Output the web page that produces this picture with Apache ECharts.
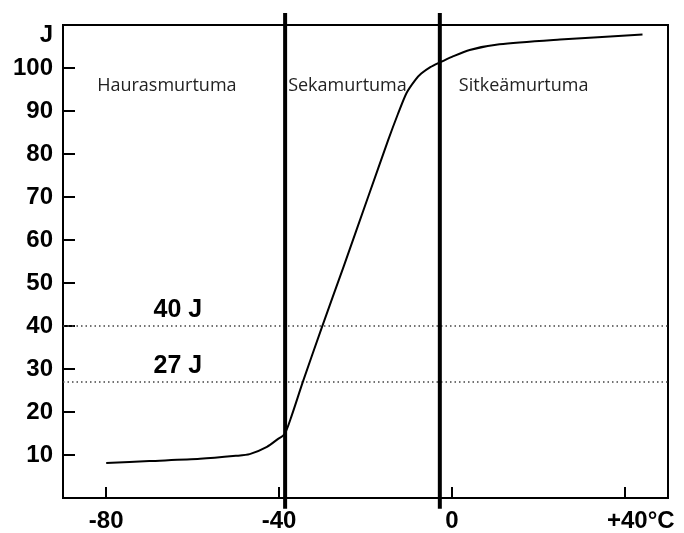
<!DOCTYPE html>
<html>
<head>
<meta charset="utf-8">
<script src="https://cdn.jsdelivr.net/npm/echarts@6/dist/echarts.min.js"></script>
<style>html,body{margin:0;padding:0;background:#fff;}#c{width:684px;height:533px;}</style>
</head>
<body>
<div id="c"></div>
<script>
// Transition curve (temperature °C, impact energy J)
const temps = [-80, -70, -58.3, -50, -46.8, -42.8, -40.3, -38.7, -37.1, -34.5, -30.2, -25, -19.4, -14.8, -12.5, -10.5, -8.5, -7.1, -5, -2.8, 0, 4.1, 11, 25, 44.1];
const energy = [8.15, 8.6, 9.1, 9.8, 10.2, 11.9, 13.7, 14.9, 19.1, 27, 39.4, 54, 70, 83.1, 89.3, 94.2, 97.2, 98.7, 100.2, 101.3, 102.6, 104.2, 105.5, 106.6, 107.8];
// Region boundaries (°C)
const boundaries = [-38.6, -2.8];
const boundaryRange = [-2.5, 112.8];
// Reference energy levels
const refLevels = [40, 27];
const refLabels = ['40 J', '27 J'];
const refLabelPos = [[-63.4, 43.6], [-63.4, 30.6]];
// Region names
const regionNames = ['Haurasmurtuma', 'Sekamurtuma', 'Sitkeämurtuma'];
const regionPos = [[-82.1, 95.9], [-37.9, 95.9], [1.6, 95.9]];
// Axis ticks
const xTicks = [-80, -40, 0, 40];
const xTickLabels = ['-80', '-40', '0', '+40°C'];
const yTicks = [10, 20, 30, 40, 50, 60, 70, 80, 90, 100];
const yUnitPos = 107.6;

const chart = echarts.init(document.getElementById('c'));
const series = [];
series.push({
  type: 'line', data: temps.map((t, i) => [t, energy[i]]), smooth: 0.25,
  symbol: 'none', lineStyle: { color: '#000', width: 2 }, z: 5
});
boundaries.forEach(b => series.push({
  type: 'line', data: [[b, boundaryRange[0]], [b, boundaryRange[1]]], clip: false,
  symbol: 'none', lineStyle: { color: '#000', width: 4 }, z: 6
}));
refLevels.forEach(v => series.push({
  type: 'line', data: [[-90, v], [50, v]], symbol: 'none',
  lineStyle: { color: '#444', width: 1.5, type: [1.5, 3] }, z: 3
}));
series.push({
  type: 'scatter', symbolSize: 0, itemStyle: { color: '#000', opacity: 1 },
  data: refLabelPos.map((p, i) => ({ value: p, name: refLabels[i] })),
  label: { show: true, formatter: p => p.name, position: [0, 0], align: 'center', verticalAlign: 'middle', opacity: 1,
    color: '#000', fontFamily: 'Liberation Sans', fontWeight: 'bold', fontSize: 25 }, z: 7
});
series.push({
  type: 'scatter', symbolSize: 0, itemStyle: { color: '#000', opacity: 1 },
  data: regionNames.map((n, i) => ({ value: regionPos[i], name: n })),
  label: { show: true, formatter: p => p.name, position: [0, 0], align: 'left', verticalAlign: 'middle', opacity: 1,
    color: '#222', fontFamily: 'Open Sans', fontSize: 18 }, z: 7
});

chart.setOption({
  animation: false,
  backgroundColor: '#fff',
  grid: { left: 63, right: 16, top: 25, bottom: 34, show: true, borderColor: '#000', borderWidth: 2 },
  xAxis: {
    type: 'value', min: -90, max: 50,
    axisLine: { show: true, onZero: false, lineStyle: { color: '#000', width: 2 } },
    axisTick: { show: true, inside: true, length: 11, customValues: xTicks, lineStyle: { color: '#000', width: 2 } },
    axisLabel: {
      customValues: xTicks, margin: 11,
      formatter: v => { const i = xTicks.indexOf(v); return i === 3 ? '{s|' + xTickLabels[i] + '}' : xTickLabels[i]; },
      color: '#000', fontFamily: 'Liberation Sans', fontWeight: 'bold', fontSize: 24,
      rich: { s: { color: '#000', fontFamily: 'Liberation Sans', fontWeight: 'bold', fontSize: 24, padding: [0, 0, 0, 32] } }
    },
    splitLine: { show: false }
  },
  yAxis: {
    type: 'value', min: 0, max: 110,
    axisLine: { show: true, onZero: false, lineStyle: { color: '#000', width: 2 } },
    axisTick: { show: true, inside: true, length: 12, customValues: yTicks, lineStyle: { color: '#000', width: 2 } },
    axisLabel: {
      customValues: yTicks.concat([yUnitPos]), margin: 10,
      formatter: v => v === yUnitPos ? 'J' : String(v),
      color: '#000', fontFamily: 'Liberation Sans', fontWeight: 'bold', fontSize: 24
    },
    splitLine: { show: false }
  },
  series: series
});
</script>
</body>
</html>
